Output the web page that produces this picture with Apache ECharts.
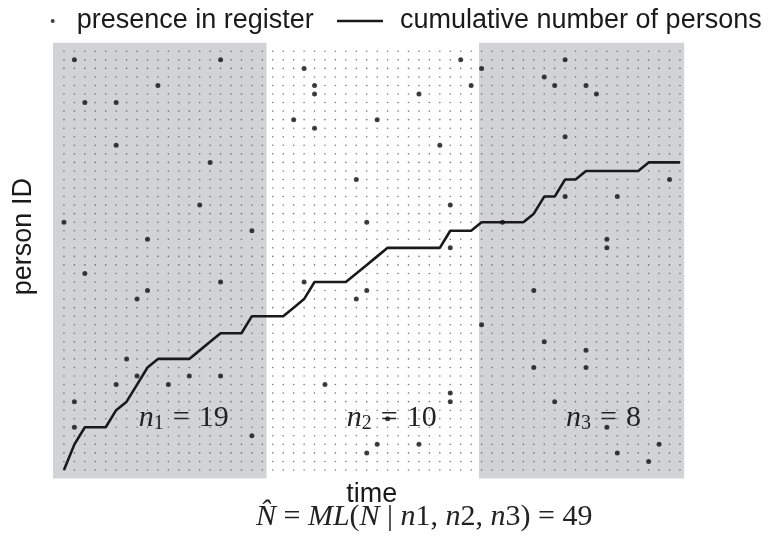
<!DOCTYPE html>
<html><head><meta charset="utf-8">
<script src="https://cdn.jsdelivr.net/npm/echarts@6/dist/echarts.min.js"></script>
<style>html,body{margin:0;padding:0;background:#fff}#c{width:771px;height:548px}</style>
</head><body><div id="c"></div>
<script>
// ---- data ----
const timeSteps = Array.from({length: 60}, (_, i) => i);      // lattice columns
const personIds = Array.from({length: 50}, (_, i) => i + 1);  // lattice rows

const presenceTime = [
  1,15,9,2,5,5,14,13,0,18,8,2,15,8,7,6,7,5,10,12,15,1,1,18,
  38,23,39,24,24,34,22,30,24,36,28,37,29,37,23,29,28,25,37,37,31,30,34,29,
  48,40,46,47,50,51,48,58,48,53,42,52,52,45,40,46,50,45,50,47,52,57,53,56
];
const presencePerson = [
  49,49,46,44,44,39,37,32,30,29,28,24,23,22,21,14,12,11,11,12,12,9,6,5,
  49,48,46,46,45,45,42,42,41,39,35,32,30,27,23,22,21,11,10,9,7,4,4,3,
  49,48,47,46,46,45,40,35,33,33,30,28,27,22,18,16,15,13,13,9,6,4,3,2
];
const cumulativePersons = [
  1,4,6,6,6,8,9,11,13,14,14,14,14,15,16,17,17,17,19,19,
  19,19,20,21,23,23,23,23,24,25,26,27,27,27,27,27,27,29,29,29,
  30,30,30,30,30,31,33,33,35,35,36,36,36,36,36,36,37,37,37,37
];
const periodStart = [-1.05, 19.4, 39.75];
const periodEnd   = [19.4, 39.75, 59.4];
const periodCounts = [19, 10, 8];
const periodShaded = [true, false, true];
const estimateN = 49;

// ---- build ----
const latticeData = [];
timeSteps.forEach(t => personIds.forEach(p => latticeData.push([t, p])));
const presenceData = presenceTime.map((t, k) => [t, presencePerson[k]]);
const lineData = timeSteps.map((t, k) => [t, cumulativePersons[k]]);

const labelOffsets = [[24, -40], [19, -40], [22, -40]];
const areaData = periodStart.map((s, k) => [
  {
    xAxis: s, yAxis: 0,
    itemStyle: {color: periodShaded[k] ? '#d2d3d5' : 'rgba(0,0,0,0)'},
    label: {
      show: true, position: 'insideBottom', offset: labelOffsets[k],
      formatter: `{n|n}{s|${k + 1}}{q|=}{e|${periodCounts[k]}}`
    }
  },
  {xAxis: periodEnd[k], yAxis: 51}
]);

const serif = 'Liberation Serif';
const sans = 'Liberation Sans';
const chart = echarts.init(document.getElementById('c'), null, {renderer: 'canvas'});
chart.setOption({
  animation: false,
  backgroundColor: '#fff',
  title: {
    left: 256, top: 502, padding: 0,
    text: `{i|N\u0302}{r| = }{i|ML}{r|(}{i|N}{r| | }{i|n}{r|1, }{i|n}{r|2, }{i|n}{r|3) = ${estimateN}}`,
    textStyle: {
      fontWeight: 'normal',
      rich: {
        i: {fontFamily: serif, fontStyle: 'italic', fontWeight: 'normal', fontSize: 30, color: '#222'},
        r: {fontFamily: serif, fontWeight: 'normal', fontSize: 30, color: '#222'}
      }
    }
  },
  legend: [
    {
      data: ['presence in register'], left: 50.7, top: 6, padding: 0,
      icon: 'circle', itemWidth: 4, itemHeight: 4,
      textStyle: {fontFamily: sans, fontSize: 27, color: '#1a1a1a', lineHeight: 30, padding: [0, 0, 0, 17]}
    },
    {
      data: ['cumulative number of persons'], left: 337, top: 6, padding: 0,
      icon: 'rect', itemWidth: 46, itemHeight: 2.6,
      textStyle: {fontFamily: sans, fontSize: 27, color: '#1a1a1a', lineHeight: 30, padding: [0, 0, 0, 12]}
    }
  ],
  grid: {left: 53, right: 80.6, top: 42.75, bottom: 69.45, containLabel: false},
  xAxis: {
    type: 'value', min: -1.05, max: 60,
    axisLine: {show: false}, axisTick: {show: false}, axisLabel: {show: false}, splitLine: {show: false},
    name: 'time', nameLocation: 'middle', nameGap: 2,
    nameTextStyle: {fontFamily: sans, fontSize: 27, color: '#1a1a1a'}
  },
  yAxis: {
    type: 'value', min: 0, max: 51,
    axisLine: {show: false}, axisTick: {show: false}, axisLabel: {show: false}, splitLine: {show: false},
    name: 'person ID', nameLocation: 'middle', nameGap: 16,
    nameTextStyle: {fontFamily: sans, fontSize: 27, color: '#1a1a1a', padding: [0, 0, 0, 48]}
  },
  series: [
    {
      name: 'lattice', type: 'scatter', data: latticeData, symbolSize: 1.6,
      itemStyle: {color: '#555'}, silent: true, z: 2, large: false,
      markArea: {
        silent: true, z: 1,
        label: {
          color: '#222', fontFamily: serif,
          rich: {
            n: {fontFamily: serif, fontStyle: 'italic', fontSize: 30, lineHeight: 28, verticalAlign: 'bottom', color: '#222'},
            s: {fontFamily: serif, fontSize: 20, lineHeight: 14, verticalAlign: 'bottom', color: '#222'},
            q: {fontFamily: serif, fontSize: 30, lineHeight: 28, verticalAlign: 'bottom', color: '#222', padding: [0, 9, 0, 9]},
            e: {fontFamily: serif, fontSize: 30, lineHeight: 28, verticalAlign: 'bottom', color: '#222'}
          }
        },
        data: areaData
      }
    },
    {
      name: 'cumulative number of persons', type: 'line', data: lineData,
      symbol: 'none', z: 3,
      lineStyle: {color: '#1a1a1a', width: 2.6},
      itemStyle: {color: '#1a1a1a'}
    },
    {
      name: 'presence in register', type: 'scatter', data: presenceData,
      symbolSize: 5, z: 4, itemStyle: {color: '#111'}
    }
  ]
});
</script>
</body></html>
